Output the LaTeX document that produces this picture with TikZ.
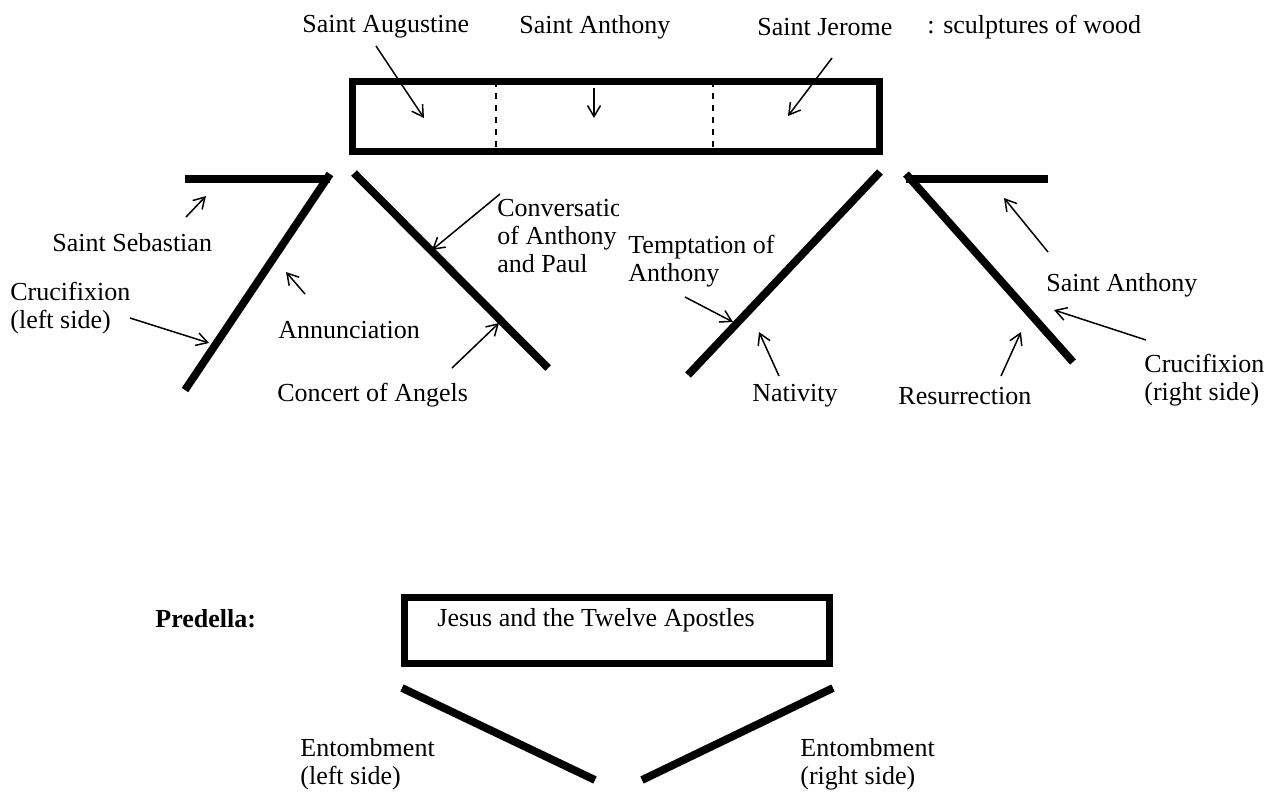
\documentclass[tikz,border=0pt]{standalone}
\usepackage{fontspec}
\setmainfont{Liberation Serif}
\usetikzlibrary{arrows.meta, calc}

\begin{document}
\begin{tikzpicture}[x=0.5pt, y=-0.5pt, >={Straight Barb[length=5.5pt, width=6.5pt]},
    every node/.style={font=\fontsize{13}{14}\selectfont, inner sep=0pt},
    lbl/.style={anchor=west, align=left},
    panel/.style={line width=3.9pt},
    pointer/.style={->, line width=0.75pt}]
  \useasboundingbox (0,0) rectangle (1281,804);
  % main shrine and its wings
  \draw[line width=3.5pt] (352,81) rectangle (879,151);
  \draw[line width=0.7pt, dash pattern=on 3pt off 3pt] (496,81) -- (496,151);
  \draw[line width=0.7pt, dash pattern=on 3pt off 3pt] (713,81) -- (713,151);
  \draw[panel] (185,179) -- (330,179);
  \draw[panel] (330,174) -- (185,390);
  \draw[panel] (354,173) -- (548,368);
  \draw[panel] (880,172) -- (688,375);
  \draw[panel] (906,174) -- (1073,362);
  \draw[panel] (906,179) -- (1048,179);
  % predella
  \draw[line width=3.5pt] (404,597) rectangle (829,663);
  \draw[panel] (402,688) -- (595,780);
  \draw[panel] (833,688) -- (642,780);
  % labels
  \node[lbl] (augustine) at (302,27) {Saint Augustine};
  \node[lbl] (anthonyTop) at (519,27) {Saint Anthony};
  \node[lbl] (jerome) at (757,27) {Saint Jerome};
  \node[lbl] (woodNote) at (927,27) {: sculptures of wood};
  \node[lbl] (sebastian) at (52,243) {Saint Sebastian};
  \node[lbl] (crucLeft) at (10,308) {Crucifixion\\(left side)};
  \node[lbl] (annunciation) at (278,330) {Annunciation};
  \node[lbl] (concert) at (277,395) {Concert of Angels};
  \begin{scope}
    \clip (490,190) rectangle (618,290);
    \node[lbl] (conversation) at (497,236) {Conversation\\of Anthony\\and Paul};
  \end{scope}
  \node[lbl] (temptation) at (628,261) {Temptation of\\Anthony};
  \node[lbl] (nativity) at (752,396) {Nativity};
  \node[lbl] (resurrection) at (898,396) {Resurrection};
  \node[lbl] (anthonyRight) at (1046,285) {Saint Anthony};
  \node[lbl] (crucRight) at (1144,380) {Crucifixion\\(right side)};
  \node[lbl, font=\fontsize{13}{14}\selectfont\bfseries] (predella) at (155,619) {Predella:};
  \node[lbl] (apostles) at (437,620) {Jesus and the Twelve Apostles};
  \node[lbl] (entombLeft) at (300,764) {Entombment\\(left side)};
  \node[lbl] (entombRight) at (800,764) {Entombment\\(right side)};
  % arrow ends
  \coordinate (augustineTail) at (376,46);   \coordinate (augustineHead) at (424,118);
  \coordinate (anthonyTopTail) at (594,88);  \coordinate (anthonyTopHead) at (594,118);
  \coordinate (jeromeTail) at (832,58);      \coordinate (jeromeHead) at (788,116);
  \coordinate (sebastianTail) at (186,217);  \coordinate (sebastianHead) at (206,196);
  \coordinate (crucLeftTail) at (130,318);   \coordinate (crucLeftHead) at (209,343);
  \coordinate (annunciationTail) at (305,294); \coordinate (annunciationHead) at (286,272);
  \coordinate (conversationTail) at (500,194); \coordinate (conversationHead) at (432,250);
  \coordinate (concertTail) at (452,368);    \coordinate (concertHead) at (499,323);
  \coordinate (temptationTail) at (685,297); \coordinate (temptationHead) at (733,322);
  \coordinate (nativityTail) at (779,376);   \coordinate (nativityHead) at (759,332);
  \coordinate (resurrectionTail) at (1001,376); \coordinate (resurrectionHead) at (1021,332);
  \coordinate (anthonyRightTail) at (1048,252); \coordinate (anthonyRightHead) at (1004,198);
  \coordinate (crucRightTail) at (1146,340); \coordinate (crucRightHead) at (1054,310);
  \foreach \p in {augustine, anthonyTop, jerome, sebastian, crucLeft, annunciation,
                  conversation, concert, temptation, nativity, resurrection,
                  anthonyRight, crucRight}
    \draw[pointer] (\p Tail) -- (\p Head);
\end{tikzpicture}
\end{document}
